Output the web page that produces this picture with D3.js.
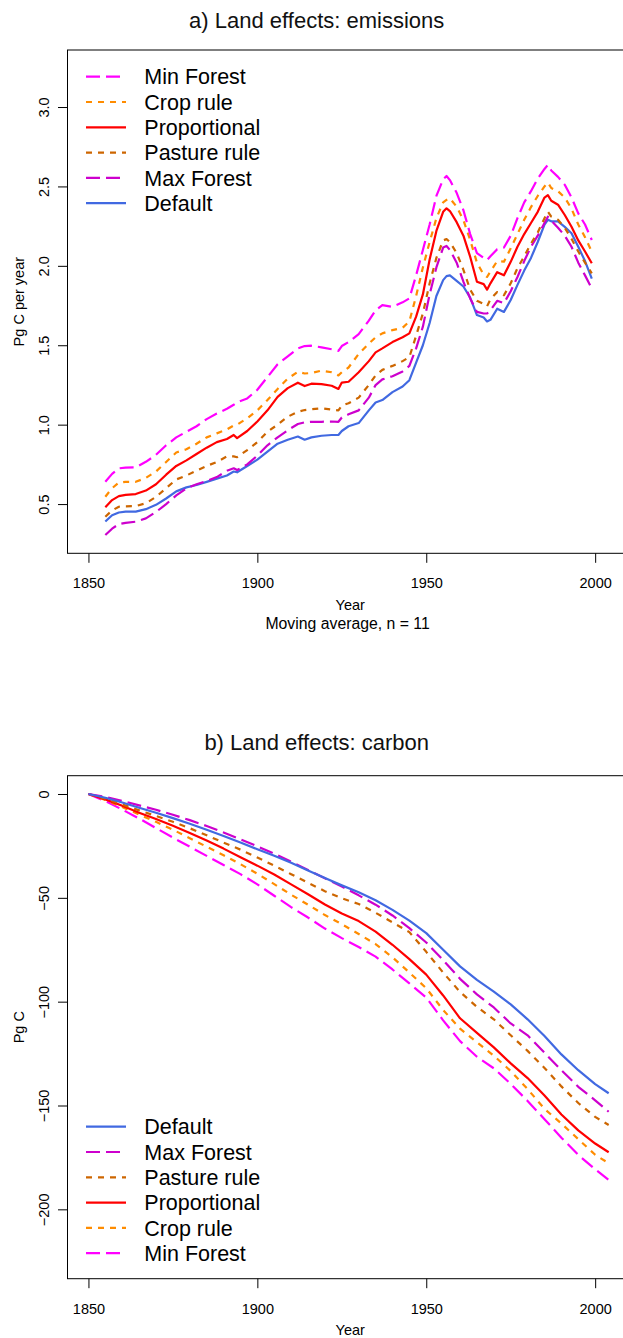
<!DOCTYPE html>
<html>
<head>
<meta charset="utf-8">
<script src="https://cdn.jsdelivr.net/npm/d3@7"></script>
<style>
  html, body { margin: 0; padding: 0; background: #fff; }
  svg { display: block; font-family: "Liberation Sans", Arial, Helvetica, sans-serif; }
</style>
</head>
<body>
<svg id="chart" width="623" height="1338"></svg>
<script>
// ---- Panel a: land-use emissions, 11-year moving average (Pg C per year) ----
const emisYears = [1855, 1857, 1859, 1861, 1864, 1867, 1870, 1873, 1876, 1879, 1882, 1885, 1888, 1891, 1893, 1894,
  1897, 1900, 1903, 1906, 1909, 1912, 1914, 1916, 1919, 1922, 1924, 1925, 1927, 1930, 1933, 1935, 1937, 1940, 1943,
  1945, 1947, 1949, 1951, 1953, 1955, 1956, 1957, 1959, 1961, 1963, 1965, 1967, 1968, 1969, 1971, 1973, 1975, 1977,
  1979, 1981, 1983, 1985, 1986, 1987, 1989, 1991, 1993, 1995, 1997, 1999];

const emisMinForest = [0.64, 0.69, 0.725, 0.73, 0.731, 0.766, 0.81, 0.87, 0.92, 0.955, 0.99, 1.035, 1.07, 1.10, 1.125, 1.14,
  1.165, 1.22, 1.30, 1.38, 1.43, 1.48, 1.495, 1.497, 1.487, 1.475, 1.465, 1.495, 1.52, 1.57, 1.655, 1.72, 1.753, 1.742, 1.77,
  1.795, 1.94, 2.10, 2.26, 2.44, 2.545, 2.566, 2.54, 2.46, 2.35, 2.20, 2.08, 2.05, 2.036, 2.06, 2.105, 2.115, 2.19, 2.30,
  2.40, 2.47, 2.55, 2.61, 2.635, 2.60, 2.56, 2.51, 2.43, 2.33, 2.26, 2.163];

const emisCropRule = [0.546, 0.60, 0.635, 0.64, 0.64, 0.665, 0.705, 0.765, 0.825, 0.845, 0.88, 0.92, 0.945, 0.97, 0.995, 1.00,
  1.04, 1.09, 1.155, 1.225, 1.29, 1.333, 1.322, 1.325, 1.34, 1.33, 1.31, 1.33, 1.36, 1.445, 1.51, 1.55, 1.575, 1.595, 1.61,
  1.65, 1.81, 1.99, 2.15, 2.30, 2.40, 2.415, 2.425, 2.372, 2.288, 2.163, 2.02, 1.945, 1.93, 1.965, 2.03, 2.026, 2.11, 2.20,
  2.29, 2.37, 2.44, 2.50, 2.524, 2.49, 2.47, 2.43, 2.36, 2.26, 2.18, 2.089];

const emisProportional = [0.48, 0.525, 0.55, 0.558, 0.563, 0.585, 0.625, 0.685, 0.74, 0.775, 0.815, 0.855, 0.89, 0.91, 0.935, 0.915,
  0.96, 1.02, 1.09, 1.175, 1.23, 1.264, 1.243, 1.258, 1.255, 1.245, 1.225, 1.265, 1.27, 1.33, 1.40, 1.455, 1.48, 1.52, 1.55,
  1.575, 1.68, 1.82, 2.04, 2.22, 2.34, 2.362, 2.345, 2.275, 2.19, 2.057, 1.90, 1.885, 1.85, 1.89, 1.96, 1.94, 2.025, 2.12,
  2.20, 2.27, 2.34, 2.43, 2.445, 2.41, 2.385, 2.32, 2.246, 2.16, 2.09, 2.016];

const emisPastureRule = [0.42, 0.46, 0.483, 0.486, 0.487, 0.505, 0.545, 0.60, 0.655, 0.68, 0.71, 0.74, 0.765, 0.80, 0.80, 0.795,
  0.84, 0.89, 0.955, 1.00, 1.05, 1.081, 1.092, 1.097, 1.103, 1.095, 1.09, 1.12, 1.135, 1.17, 1.25, 1.31, 1.345, 1.37, 1.40,
  1.425, 1.56, 1.70, 1.89, 2.05, 2.16, 2.168, 2.15, 2.08, 1.975, 1.85, 1.78, 1.76, 1.745, 1.79, 1.835, 1.815, 1.89, 1.985,
  2.06, 2.14, 2.21, 2.30, 2.341, 2.31, 2.29, 2.24, 2.17, 2.09, 2.02, 1.953];

const emisMaxForest = [0.305, 0.345, 0.374, 0.382, 0.389, 0.41, 0.45, 0.50, 0.555, 0.599, 0.625, 0.645, 0.67, 0.71, 0.725, 0.714,
  0.75, 0.805, 0.87, 0.92, 0.965, 1.004, 1.015, 1.018, 1.018, 1.02, 1.018, 1.045, 1.065, 1.09, 1.17, 1.249, 1.285, 1.305, 1.335,
  1.37, 1.48, 1.617, 1.82, 1.99, 2.115, 2.125, 2.10, 2.02, 1.90, 1.795, 1.71, 1.70, 1.70, 1.72, 1.78, 1.765, 1.84, 1.93,
  2.03, 2.12, 2.19, 2.27, 2.309, 2.285, 2.24, 2.19, 2.12, 2.02, 1.94, 1.858];

const emisDefault = [0.39, 0.43, 0.447, 0.452, 0.452, 0.468, 0.495, 0.535, 0.58, 0.605, 0.62, 0.64, 0.66, 0.68, 0.705, 0.70,
  0.74, 0.78, 0.83, 0.88, 0.905, 0.925, 0.905, 0.92, 0.93, 0.935, 0.935, 0.96, 0.99, 1.01, 1.09, 1.14, 1.155, 1.205, 1.24,
  1.28, 1.39, 1.50, 1.64, 1.81, 1.91, 1.935, 1.94, 1.905, 1.87, 1.80, 1.69, 1.675, 1.65, 1.66, 1.73, 1.71, 1.785, 1.88,
  1.97, 2.05, 2.15, 2.26, 2.29, 2.28, 2.28, 2.245, 2.205, 2.12, 2.03, 1.92];

const emisTicks = [0.5, 1.0, 1.5, 2.0, 2.5, 3.0];

// ---- Panel b: cumulative land carbon change (Pg C) ----
const carbYears = [1850, 1855, 1860, 1865, 1870, 1875, 1880, 1885, 1890, 1895, 1900, 1905, 1910, 1915, 1920, 1925,
  1930, 1935, 1940, 1945, 1950, 1955, 1960, 1965, 1970, 1975, 1980, 1985, 1990, 1995, 2000, 2004];

const carbDefault = [0, -1.8, -4.1, -6.6, -9.0, -11.6, -14.3, -17.2, -20.2, -23.4, -26.6, -29.7, -33.1, -36.8, -40.5, -44.0,
  -47.3, -51.2, -55.8, -61.0, -67.0, -75.0, -83.0, -89.5, -95.2, -101.3, -108.5, -116.5, -125.4, -133.0, -139.7, -144.1];

const carbMaxForest = [0, -1.4, -3.3, -5.5, -7.6, -10.0, -12.6, -15.4, -18.5, -21.8, -25.2, -28.8, -32.6, -36.6, -40.6, -44.6,
  -48.8, -53.3, -58.5, -64.6, -71.5, -80.0, -89.0, -96.5, -102.8, -110.5, -116.2, -124.6, -133.0, -141.0, -147.5, -153.0];

const carbPastureRule = [0, -2.2, -5.0, -7.9, -10.6, -13.4, -16.5, -19.9, -23.4, -26.8, -30.6, -34.5, -38.6, -42.8, -46.8, -50.2,
  -53.0, -57.2, -61.8, -66.5, -76.0, -86.0, -95.3, -102.5, -108.5, -116.2, -123.7, -131.9, -140.8, -148.8, -155.5, -159.4];

const carbProportional = [0, -2.6, -5.7, -9.0, -12.0, -15.3, -18.8, -22.4, -26.3, -30.5, -34.5, -38.8, -43.5, -48.3, -53.2, -57.5,
  -61.2, -66.3, -72.6, -79.5, -87.0, -97.0, -108.0, -115.0, -122.0, -129.7, -136.8, -145.2, -154.3, -162.0, -168.3, -172.5];

const carbCropRule = [0, -2.9, -6.3, -9.9, -13.4, -17.2, -21.3, -25.4, -29.5, -33.8, -38.4, -43.4, -48.5, -53.3, -58.3, -62.7,
  -67.4, -72.3, -78.6, -86.0, -93.5, -104.0, -113.0, -119.5, -126.0, -133.4, -142.1, -151.6, -158.7, -166.2, -173.7, -177.8];

const carbMinForest = [0, -3.4, -7.5, -11.8, -16.4, -21.0, -25.4, -29.8, -34.2, -38.6, -43.5, -49.0, -54.5, -59.5, -64.8, -69.4,
  -73.7, -78.3, -84.5, -91.2, -98.0, -109.0, -119.0, -126.5, -132.1, -139.6, -147.8, -156.6, -165.5, -173.8, -180.7, -185.8];

const carbTicks = [0, -50, -100, -150, -200];

const yearTicks = [1850, 1900, 1950, 2000];

// Line styles per scenario
const styles = {
  "Min Forest":   { color: "#FF00FF", dash: "14,6" },
  "Crop rule":    { color: "#FF8C00", dash: "6,6" },
  "Proportional": { color: "#FF0000", dash: null },
  "Pasture rule": { color: "#CD6600", dash: "6,6" },
  "Max Forest":   { color: "#CD00CD", dash: "14,6" },
  "Default":      { color: "#4169E1", dash: null }
};

const emisSeries = [
  { name: "Min Forest", values: emisMinForest },
  { name: "Crop rule", values: emisCropRule },
  { name: "Proportional", values: emisProportional },
  { name: "Pasture rule", values: emisPastureRule },
  { name: "Max Forest", values: emisMaxForest },
  { name: "Default", values: emisDefault }
];

const carbSeries = [
  { name: "Default", values: carbDefault },
  { name: "Max Forest", values: carbMaxForest },
  { name: "Pasture rule", values: carbPastureRule },
  { name: "Proportional", values: carbProportional },
  { name: "Crop rule", values: carbCropRule },
  { name: "Min Forest", values: carbMinForest }
];

const svg = d3.select("#chart");
svg.append("rect").attr("width", 623).attr("height", 1338).attr("fill", "#fff");

const left = 67.5, right = 633;
const x = d3.scaleLinear().domain([1843.8, 2011.2]).range([left, right]);

function panel(cfg) {
  const { top, bottom, yDomain, ticks, years, series, title, titleY, ylab, legendY, sub, tickFmt } = cfg;
  const y = d3.scaleLinear().domain(yDomain).range([bottom, top]);
  const g = svg.append("g");

  // data lines
  const line = d3.line().x((d) => x(d[0])).y((d) => y(d[1]));
  series.slice().reverse().forEach((s) => {
    const st = styles[s.name];
    g.append("path")
      .datum(years.map((yr, i) => [yr, s.values[i]]))
      .attr("d", line)
      .attr("fill", "none")
      .attr("stroke", st.color)
      .attr("stroke-width", 2.2)
      .attr("stroke-linejoin", "round")
      .attr("stroke-dasharray", st.dash);
  });

  // plot frame
  g.append("rect")
    .attr("x", left).attr("y", top)
    .attr("width", right - left).attr("height", bottom - top)
    .attr("fill", "none").attr("stroke", "#000").attr("stroke-width", 1);

  // x axis
  const xa = g.append("g").attr("transform", `translate(0,${bottom})`)
    .call(d3.axisBottom(x).tickValues(yearTicks).tickFormat(d3.format("d")).tickSize(9.5).tickSizeOuter(0));
  xa.select(".domain").remove();
  xa.selectAll(".tick line").attr("stroke", "#000");
  xa.selectAll(".tick text")
    .attr("y", 35).attr("dy", null)
    .attr("fill", "#000")
    .style("font-size", "14.5px")
    .style("font-family", "'Liberation Sans', Arial, Helvetica, sans-serif");

  // y axis
  const ya = g.append("g").attr("transform", `translate(${left},0)`)
    .call(d3.axisLeft(y).tickValues(ticks).tickFormat(tickFmt).tickSize(9.5).tickSizeOuter(0));
  ya.select(".domain").remove();
  ya.selectAll(".tick line").attr("stroke", "#000");
  ya.selectAll(".tick text")
    .attr("x", null).attr("dy", null)
    .attr("transform", "translate(-18.3,0) rotate(-90)")
    .attr("text-anchor", "middle")
    .attr("fill", "#000")
    .style("font-size", "14.5px")
    .style("font-family", "'Liberation Sans', Arial, Helvetica, sans-serif");

  // titles
  g.append("text").attr("x", 316.7).attr("y", titleY)
    .attr("text-anchor", "middle").style("font-size", "22px").attr("fill", "#111")
    .text(title);
  g.append("text").attr("x", (left + right) / 2).attr("y", bottom + 56.5)
    .attr("text-anchor", "middle").style("font-size", "14.5px").attr("fill", "#000")
    .text("Year");
  if (sub) {
    g.append("text").attr("x", 347.6).attr("y", bottom + 76)
      .attr("text-anchor", "middle").style("font-size", "15.8px").attr("fill", "#000")
      .text(sub);
  }
  g.append("text")
    .attr("transform", `translate(24,${(top + bottom) / 2}) rotate(-90)`)
    .attr("text-anchor", "middle").style("font-size", "14.5px").attr("fill", "#000")
    .text(ylab);

  // legend
  const lg = g.append("g");
  series.forEach((s, i) => {
    const st = styles[s.name];
    const ly = legendY + i * 25.3;
    lg.append("line")
      .attr("x1", 86).attr("x2", 126).attr("y1", ly).attr("y2", ly)
      .attr("stroke", st.color).attr("stroke-width", 2.2)
      .attr("stroke-dasharray", st.dash);
    lg.append("text").attr("x", 144.3).attr("y", ly + 7.7)
      .style("font-size", "21.5px").attr("fill", "#000")
      .text(s.name);
  });
}

panel({
  top: 50, bottom: 553.3, yDomain: [0.19, 3.359], ticks: emisTicks,
  years: emisYears, series: emisSeries,
  title: "a) Land effects: emissions", titleY: 27.7,
  ylab: "Pg C per year", legendY: 76.7,
  sub: "Moving average, n = 11", tickFmt: d3.format(".1f")
});

panel({
  top: 775.7, bottom: 1278.7, yDomain: [-233.4, 8.81], ticks: carbTicks,
  years: carbYears, series: carbSeries,
  title: "b) Land effects: carbon", titleY: 750,
  ylab: "Pg C", legendY: 1126.7,
  sub: null, tickFmt: d3.format("d")
});
</script>
</body>
</html>
